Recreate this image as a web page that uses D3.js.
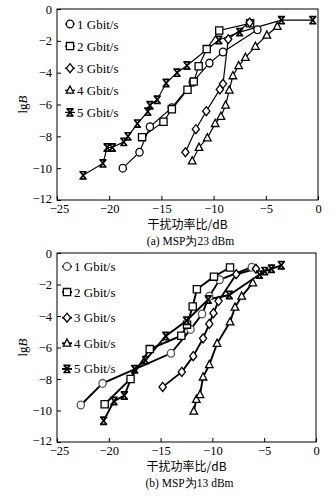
<!DOCTYPE html>
<html><head><meta charset="utf-8">
<script src="https://cdn.jsdelivr.net/npm/d3@7"></script>
<style>html,body{margin:0;padding:0;background:#fff;}svg{display:block;}</style>
</head><body>
<svg id="c" width="336" height="496"></svg>
<script>
const seriesLabels = ["1 Gbit/s","2 Gbit/s","3 Gbit/s","4 Gbit/s","5 Gbit/s"];
const seriesShapes = ["circle","square","diamond","triangle","x"];
const xTicks = [-25,-20,-15,-10,-5,0];
const yTicks = [0,-2,-4,-6,-8,-10,-12];
const xTitle = "干扰功率比/dB";
const captionA = "(a) MSP为23 dBm";
const captionB = "(b) MSP为13 dBm";

// (a) MSP 23 dBm
const a1 = [[-18.7,-10.0],[-17.1,-9.0],[-16.1,-7.4],[-14.0,-6.2],[-12.0,-4.6],[-10.4,-3.4],[-9.1,-2.7],[-5.8,-1.3]];
const a2 = [[-16.85,-8.05],[-14.8,-7.08],[-14.0,-6.3],[-12.5,-5.07],[-11.9,-4.56],[-11.43,-3.6],[-10.66,-2.52],[-9.46,-1.35],[-6.5,-0.9]];
const a3 = [[-12.7,-9.0],[-11.7,-7.55],[-10.7,-6.42],[-9.4,-5.05],[-9.1,-4.7],[-8.6,-1.9],[-6.55,-0.85]];
const a4 = [[-12.05,-9.55],[-11.4,-8.7],[-10.6,-8.1],[-9.85,-7.2],[-9.3,-6.75],[-8.85,-6.05],[-8.5,-5.1],[-8.15,-4.2],[-7.6,-3.57],[-6.95,-3.05],[-6.0,-2.35],[-4.9,-1.65],[-3.9,-1.1]];
const a5 = [[-22.5,-10.45],[-20.6,-9.7],[-20.2,-8.7],[-19.7,-8.7],[-18.6,-8.35],[-18.2,-8.0],[-17.3,-7.2],[-16.3,-6.45],[-16.1,-6.05],[-15.4,-5.7],[-14.55,-4.65],[-13.5,-4.0],[-12.55,-3.55],[-9.5,-1.95],[-7.5,-1.45],[-3.5,-0.7],[-0.5,-0.7]];

// (b) MSP 13 dBm
const b1 = [[-22.7,-9.65],[-20.6,-8.28],[-14.0,-6.37],[-12.1,-4.85],[-11.0,-3.87],[-10.3,-2.75],[-9.3,-1.7],[-6.2,-0.9]];
const b2 = [[-20.4,-9.6],[-17.9,-8.0],[-16.05,-6.1],[-13.0,-5.25],[-12.45,-4.55],[-11.9,-3.4],[-11.5,-2.3],[-9.85,-1.5],[-8.3,-0.92]];
const b3 = [[-14.8,-8.5],[-12.95,-7.55],[-11.85,-6.55],[-10.9,-5.42],[-10.3,-4.5],[-9.9,-3.82],[-9.4,-3.05],[-7.7,-1.35],[-5.8,-1.0]];
const b4 = [[-11.8,-10.05],[-11.55,-9.3],[-11.2,-9.0],[-10.9,-7.88],[-10.3,-7.1],[-9.55,-5.75],[-8.3,-4.38],[-7.82,-3.45],[-7.17,-2.75],[-6.1,-1.9]];
const b5 = [[-20.5,-10.65],[-19.5,-9.4],[-18.5,-9.05],[-17.5,-7.38],[-16.45,-6.8],[-14.5,-5.27],[-12.5,-4.3],[-10.4,-2.95],[-8.37,-2.67],[-5.45,-1.37],[-4.95,-1.15],[-4.3,-1.0],[-3.35,-0.78]];

const svg = d3.select("#c");
const serif = "'Liberation Serif','Times New Roman',serif";
const cjk = "'Noto Sans CJK SC',sans-serif";

function markerPath(shape, s){
  switch(shape){
    case "square": return `M${-s},${-s}H${s}V${s}H${-s}Z`;
    case "diamond": return `M0,${-s*1.25}L${s},0L0,${s*1.25}L${-s},0Z`;
    case "triangle": return `M0,${-s*1.2}L${s*1.05},${s*0.8}L${-s*1.05},${s*0.8}Z`;
    case "x": return `M${-s*0.8},${-s}L${s*0.8},${s}M${s*0.8},${-s}L${-s*0.8},${s}M${-s},${-s}H${s}M${-s},${s}H${s}`;
  }
}
function drawMarker(g, shape, x, y, s, sw, circleStroke){
  if(shape==="circle"){
    g.append("ellipse").attr("cx",x).attr("cy",y).attr("rx",s).attr("ry",s*1.08)
     .attr("fill","#fff").attr("stroke",circleStroke||"#000").attr("stroke-width",sw);
  } else {
    g.append("path").attr("transform",`translate(${x},${y})`).attr("d",markerPath(shape,s))
     .attr("fill", shape==="x" ? "none" : "#fff").attr("stroke","#000").attr("stroke-width",sw*(shape==="x"?1.3:1));
  }
}

function panel(opt){
  const x = d3.scaleLinear().domain([-25,0]).range([opt.x0,opt.x1]);
  const y = d3.scaleLinear().domain([-12,0]).range([opt.y1,opt.y0]);
  const g = svg.append("g");
  g.append("rect").attr("x",opt.x0).attr("y",opt.y0).attr("width",opt.x1-opt.x0).attr("height",opt.y1-opt.y0)
    .attr("fill","none").attr("stroke","#000").attr("stroke-width",1);
  const ax = g.append("g").attr("transform",`translate(0,${opt.y1})`)
    .call(d3.axisBottom(x).tickValues(xTicks).tickSize(-4).tickPadding(4).tickFormat(d=>d===0?"0":"\u2212"+Math.abs(d)));
  const ay = g.append("g").attr("transform",`translate(${opt.x0},0)`)
    .call(d3.axisLeft(y).tickValues(yTicks).tickSize(-4).tickPadding(5).tickFormat(d=>d===0?"0":"\u2212"+Math.abs(d)));
  [ax,ay].forEach(a=>{
    a.select(".domain").remove();
    a.selectAll("text").attr("font-family",serif).attr("font-size",12.5).attr("fill","#000");
    a.selectAll("line").attr("stroke","#000");
  });
  ax.selectAll("text").attr("dy","0.71em").attr("dx",d=>d===-25?2:0);
  ay.selectAll("text").attr("dy",d=>d===-12?"0.2em":"0.32em");
  g.append("text").attr("transform",`translate(27,${(opt.y0+opt.y1)/2}) rotate(-90)`)
    .attr("text-anchor","middle").attr("font-family",serif).attr("font-size",13)
    .html("lg<tspan font-style='italic'>B</tspan>");
  g.append("text").attr("x",(opt.x0+opt.x1)/2).attr("y",opt.y1+29).attr("text-anchor","middle")
    .attr("font-family",cjk).attr("font-size",12).text(xTitle);
  g.append("text").attr("x",(opt.x0+opt.x1)/2+3).attr("y",opt.y1+45).attr("text-anchor","middle")
    .attr("font-family",serif).attr("font-size",11.5).text(opt.caption);

  const line = d3.line().x(d=>x(d[0])).y(d=>y(d[1]));
  opt.data.forEach(s=>{
    g.append("path").datum(s).attr("d",line).attr("fill","none").attr("stroke","#000").attr("stroke-width",opt.lw);
  });
  opt.data.forEach((s,i)=>{
    s.forEach(d=>drawMarker(g, seriesShapes[i], x(d[0]), y(d[1]), opt.ms, 1.3, i===0?opt.c1:null));
  });
  seriesLabels.forEach((lab,i)=>{
    const ly = opt.legY + i*opt.legDy;
    g.append("line").attr("x1",opt.legX-5).attr("x2",opt.legX+5).attr("y1",ly).attr("y2",ly)
      .attr("stroke","#000").attr("stroke-width",opt.lw);
    drawMarker(g, seriesShapes[i], opt.legX, ly, opt.ms, 1.3, i===0?opt.c1:null);
    g.append("text").attr("x",opt.legX+7).attr("y",ly).attr("dy","0.35em")
      .attr("font-family",serif).attr("font-size",13).text(lab);
  });
}

panel({x0:57,x1:318,y0:9,y1:200,data:[a1,a2,a3,a4,a5],lw:1.2,ms:3.6,legX:70,legY:24,legDy:22.1,caption:captionA,c1:"#000"});
panel({x0:57,x1:316,y0:253,y1:442,data:[b1,b2,b3,b4,b5],lw:1.9,ms:3.6,legX:67,legY:266.5,legDy:25.6,caption:captionB,c1:"#555"});
</script>
</body></html>
